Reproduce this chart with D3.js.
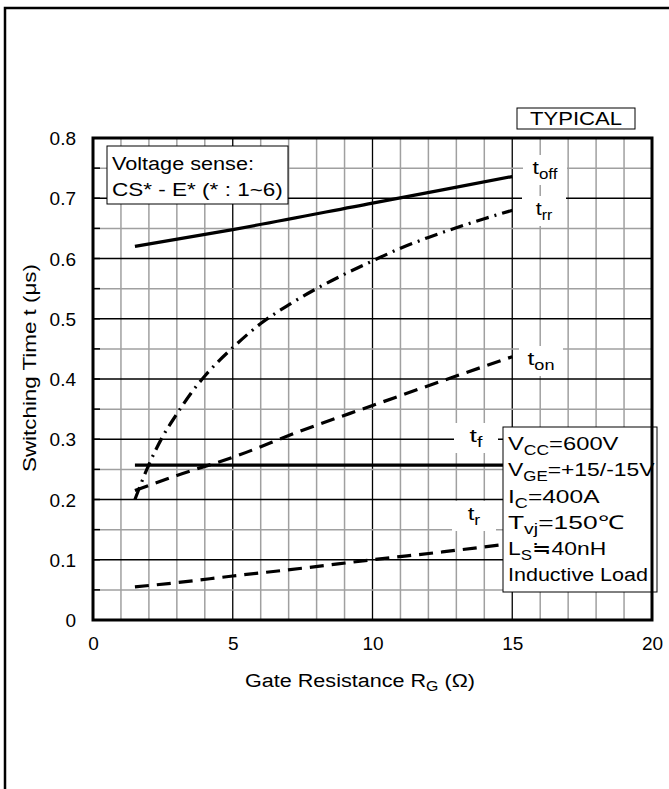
<!DOCTYPE html>
<html><head><meta charset="utf-8">
<script src="https://cdn.jsdelivr.net/npm/d3@7"></script>
<style>body{margin:0;background:#fff;} text{font-family:"Liberation Sans",Arial,sans-serif;fill:#000;}</style>
</head><body>
<svg id="c" width="669" height="789"></svg>
<script>
// ---- data ----
const xTicks = [0, 5, 10, 15, 20];
const yTicks = [0, 0.1, 0.2, 0.3, 0.4, 0.5, 0.6, 0.7, 0.8];
const toffX = [1.5, 5, 10, 15];
const toffY = [0.62, 0.648, 0.692, 0.736];
const trrX = [1.5, 2, 2.5, 3, 3.5, 4, 5, 6, 7, 8, 9, 10, 11, 12, 13, 14, 15];
const trrY = [0.2, 0.258, 0.305, 0.342, 0.376, 0.405, 0.452, 0.492, 0.523, 0.55, 0.574, 0.596, 0.617, 0.635, 0.651, 0.666, 0.68];
const tonX = [1.5, 3, 5, 7.5, 10, 12.5, 15];
const tonY = [0.215, 0.24, 0.27, 0.315, 0.356, 0.397, 0.437];
const tfX = [1.5, 15];
const tfY = [0.257, 0.257];
const trX = [1.5, 3, 5, 7.5, 10, 12.5, 15];
const trY = [0.055, 0.062, 0.073, 0.086, 0.1, 0.113, 0.127];

const svg = d3.select("#c");
const L = 93, R = 652, T = 138, B = 620;
const x = d3.scaleLinear().domain([0, 20]).range([L, R]);
const y = d3.scaleLinear().domain([0, 0.8]).range([B, T]);

// stretch a text horizontally to a target width (keeps left/middle anchor point)
function fit(sel, w, ax) {
  const bb = sel.node().getBBox();
  const k = w / bb.width;
  sel.attr("transform", `translate(${ax},0) scale(${k},1) translate(${-ax},0)`);
}

// outer frame
svg.append("path").attr("d", `M5,789 L5,8 L669,8`).attr("fill", "none").attr("stroke", "#000").attr("stroke-width", 2.5);

// grid
const g = svg.append("g");
d3.range(1, 20).forEach(v => {
  const major = v % 5 === 0;
  g.append("line").attr("x1", x(v)).attr("x2", x(v)).attr("y1", T).attr("y2", B)
    .attr("stroke", major ? "#000" : "#a0a0a0").attr("stroke-width", major ? 1.3 : 1.5);
});
d3.range(1, 16).forEach(i => {
  const v = i * 0.05;
  const major = i % 2 === 0;
  g.append("line").attr("x1", L).attr("x2", R).attr("y1", y(v)).attr("y2", y(v))
    .attr("stroke", major ? "#000" : "#a0a0a0").attr("stroke-width", major ? 1.3 : 1.5);
  g.append("line").attr("x1", L).attr("x2", L + 7).attr("y1", y(v)).attr("y2", y(v))
    .attr("stroke", "#000").attr("stroke-width", 1.5);
});

// axes tick labels
const xAxis = d3.axisBottom(x).tickValues(xTicks).tickSize(0).tickPadding(0).tickFormat(d3.format("d"));
const ax = svg.append("g").attr("transform", `translate(0,${B + 30})`).call(xAxis);
ax.select(".domain").remove();
ax.selectAll("text").attr("font-size", 19).attr("font-family", "Liberation Sans, Arial, sans-serif").attr("fill", "#000").attr("dy", 0);
const yAxis = d3.axisLeft(y).tickValues(yTicks).tickSize(0).tickPadding(0).tickFormat(d => d === 0 ? "0" : d3.format(".1f")(d));
const ay = svg.append("g").attr("transform", `translate(76,0)`).call(yAxis);
ay.select(".domain").remove();
ay.selectAll("text").attr("font-size", 19).attr("font-family", "Liberation Sans, Arial, sans-serif").attr("fill", "#000").attr("dy", "0.35em");

// axis titles
const xt = svg.append("text").attr("x", 360).attr("y", 687).attr("text-anchor", "middle").attr("font-size", 19);
xt.append("tspan").text("Gate Resistance R");
xt.append("tspan").attr("font-size", 14).attr("dy", 4).text("G");
xt.append("tspan").attr("dy", -4).text(" (Ω)");
fit(xt, 230, 360);
const ytg = svg.append("g").attr("transform", "translate(36,368) rotate(-90)");
const yt = ytg.append("text").attr("x", 0).attr("y", 0).attr("text-anchor", "middle").attr("font-size", 19).text("Switching Time t (μs)");
fit(yt, 208, 0);

// curves
const line = d3.line().x(d => x(d[0])).y(d => y(d[1])).curve(d3.curveMonotoneX);
const cg = svg.append("g").attr("fill", "none").attr("stroke", "#000").attr("stroke-width", 3.2);
const zip = (a, b) => a.map((v, i) => [v, b[i]]);
cg.append("path").attr("d", line(zip(toffX, toffY)));
cg.append("path").attr("d", line(zip(trrX, trrY))).attr("stroke-dasharray", "13,6,2,6");
cg.append("path").attr("d", line(zip(tonX, tonY))).attr("stroke-dasharray", "14,8");
cg.append("path").attr("d", line(zip(tfX, tfY)));
cg.append("path").attr("d", line(zip(trX, trY))).attr("stroke-dasharray", "14,8");

// curve labels
const labels = [
  {m: "t", s: "off", cx: 545, cy: 170, w: 25},
  {m: "t", s: "rr", cx: 544, cy: 211, w: 17},
  {m: "t", s: "on", cx: 541, cy: 361, w: 27},
  {m: "t", s: "f", cx: 476, cy: 438, w: 13},
  {m: "t", s: "r", cx: 474, cy: 516, w: 13}
];
labels.forEach(l => {
  svg.append("rect").attr("x", l.cx - 22).attr("y", l.cy - 15).attr("width", 44).attr("height", 30).attr("fill", "#fff");
  const t = svg.append("text").attr("x", l.cx).attr("y", l.cy + 4).attr("text-anchor", "middle").attr("font-size", 19);
  t.append("tspan").text(l.m);
  t.append("tspan").attr("font-size", 14).attr("dy", 5).text(l.s);
  fit(t, l.w, l.cx);
});

// Voltage sense box
svg.append("rect").attr("x", 107).attr("y", 146).attr("width", 181).attr("height", 58).attr("fill", "#fff").attr("stroke", "#000").attr("stroke-width", 1);
fit(svg.append("text").attr("x", 112).attr("y", 170).attr("font-size", 19).text("Voltage sense:"), 142, 112);
fit(svg.append("text").attr("x", 112).attr("y", 196).attr("font-size", 19).text("CS* - E* (* : 1~6)"), 171, 112);

// conditions box
svg.append("rect").attr("x", 503).attr("y", 427).attr("width", 154).attr("height", 165).attr("fill", "#fff").attr("stroke", "#000").attr("stroke-width", 1);
const cond = [
  ["V", "CC", "=600V"],
  ["V", "GE", "=+15/-15V"],
  ["I", "C", "=400A"],
  ["T", "vj", "=150℃"],
  ["L", "S", "≒40nH"],
  ["Inductive Load", "", ""]
];
const condW = [111, 147, 92, 116, 98, 140];
cond.forEach((c, i) => {
  const t = svg.append("text").attr("x", 508).attr("y", 450 + i * 26.3).attr("font-size", 19);
  t.append("tspan").text(c[0]);
  if (c[1]) {
    t.append("tspan").attr("font-size", 14).attr("dy", 5).text(c[1]);
    t.append("tspan").attr("dy", -5).text(c[2]);
  }
  fit(t, condW[i], 508);
});

// plot border
svg.append("rect").attr("x", L).attr("y", T).attr("width", R - L).attr("height", B - T).attr("fill", "none").attr("stroke", "#000").attr("stroke-width", 3);

// TYPICAL box
svg.append("rect").attr("x", 517).attr("y", 108).attr("width", 118).attr("height", 21).attr("fill", "#fff").attr("stroke", "#000").attr("stroke-width", 1);
fit(svg.append("text").attr("x", 576).attr("y", 125).attr("text-anchor", "middle").attr("font-size", 18).text("TYPICAL"), 92, 576);
</script>
</body></html>
